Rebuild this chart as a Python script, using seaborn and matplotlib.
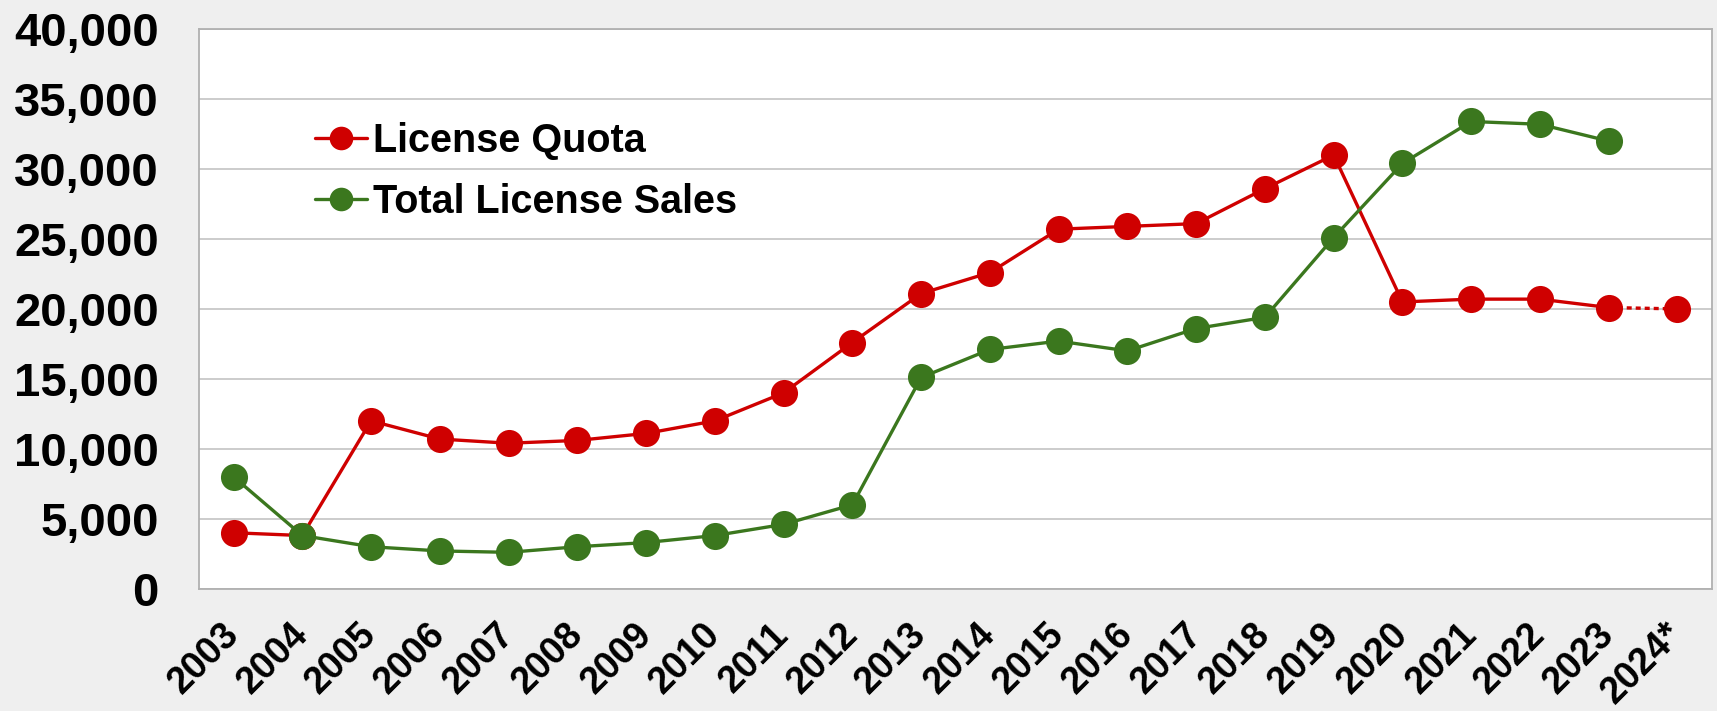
import numpy as np
import pandas as pd
import matplotlib.pyplot as plt
import seaborn as sns
from matplotlib.ticker import FuncFormatter, MultipleLocator

years = ['2003', '2004', '2005', '2006', '2007', '2008', '2009', '2010', '2011', '2012', '2013',
         '2014', '2015', '2016', '2017', '2018', '2019', '2020', '2021', '2022', '2023', '2024*']
license_quota = [4000, 3800, 12000, 10700, 10400, 10600, 11100, 12000, 14000, 17600, 21100,
                 22600, 25700, 25900, 26100, 28600, 31000, 20500, 20700, 20700, 20100, 20000]
total_sales = [8000, 3800, 3000, 2700, 2600, 3000, 3300, 3800, 4600, 6000, 15100,
               17100, 17700, 17000, 18600, 19400, 25100, 30400, 33400, 33200, 32000, np.nan]

red = '#CF0000'
green = '#3B771E'

sns.set_style('white')
plt.rcParams['font.family'] = ['Liberation Sans', 'DejaVu Sans']
plt.rcParams['text.color'] = 'black'
plt.rcParams['xtick.color'] = 'black'
plt.rcParams['ytick.color'] = 'black'

df = pd.DataFrame({'pos': np.arange(len(years)), 'year': years,
                   'quota': license_quota, 'sales': total_sales})
solid = df.iloc[:-1]        # 2024* quota is a projection -> dashed
proj = df.iloc[-2:]

fig = plt.figure(figsize=(17.17, 7.11), dpi=100, facecolor='#EFEFEF')
ax = fig.add_axes([0.116, 0.172, 0.881, 0.787])
ax.set_facecolor('white')

mk = dict(marker='o', markersize=19.5, markeredgewidth=0, linewidth=2.4)
sns.lineplot(data=solid, x='pos', y='quota', color=red, label='License Quota', ax=ax, **mk)
sns.lineplot(data=df.dropna(), x='pos', y='sales', color=green, label='Total License Sales', ax=ax, **mk)
ax.plot(proj['pos'], proj['quota'], color=red, linestyle=(0, (1.5, 1.2)), linewidth=2.4)
ax.plot(proj['pos'].iloc[-1:], proj['quota'].iloc[-1:], 'o', color=red, markersize=19.5, markeredgewidth=0)

ax.set_xlim(-0.5, len(years) - 0.5)
ax.set_ylim(0, 40000)
ax.yaxis.set_major_locator(MultipleLocator(5000))
ax.yaxis.set_major_formatter(FuncFormatter(lambda v, p: f'{int(v):,}'))
ax.grid(axis='y', color='#C8C8C8', linewidth=1.3)
ax.set_axisbelow(True)

ax.set_xticks(np.arange(len(years)))
ax.set_xticklabels(years, rotation=45, ha='right', va='center', rotation_mode='anchor',
                   fontsize=27, fontweight='bold')
ax.set_xticks(np.arange(len(years) + 1) - 0.5, minor=True)
ax.tick_params(axis='x', which='major', length=0, pad=29)
ax.tick_params(axis='x', which='minor', length=18, width=1.3, color='#A6A6A6', direction='inout')
ax.tick_params(axis='y', length=0, pad=29, labelsize=34)
for lab in ax.get_yticklabels():
    lab.set_fontweight('bold')

for s in ax.spines.values():
    s.set_color('#B0B0B0')
    s.set_linewidth(1.3)

ax.set_xlabel('')
ax.set_ylabel('')
leg = ax.legend(loc='upper left', bbox_to_anchor=(0.0767, 0.834), frameon=False,
                prop={'size': 28.5, 'weight': 'bold'}, handlelength=1.3, handletextpad=0.15,
                labelspacing=0.58, borderpad=0, borderaxespad=0)
for h in leg.legend_handles:
    h.set_markersize(17)

fig.savefig('out.png', dpi=100, facecolor=fig.get_facecolor())
